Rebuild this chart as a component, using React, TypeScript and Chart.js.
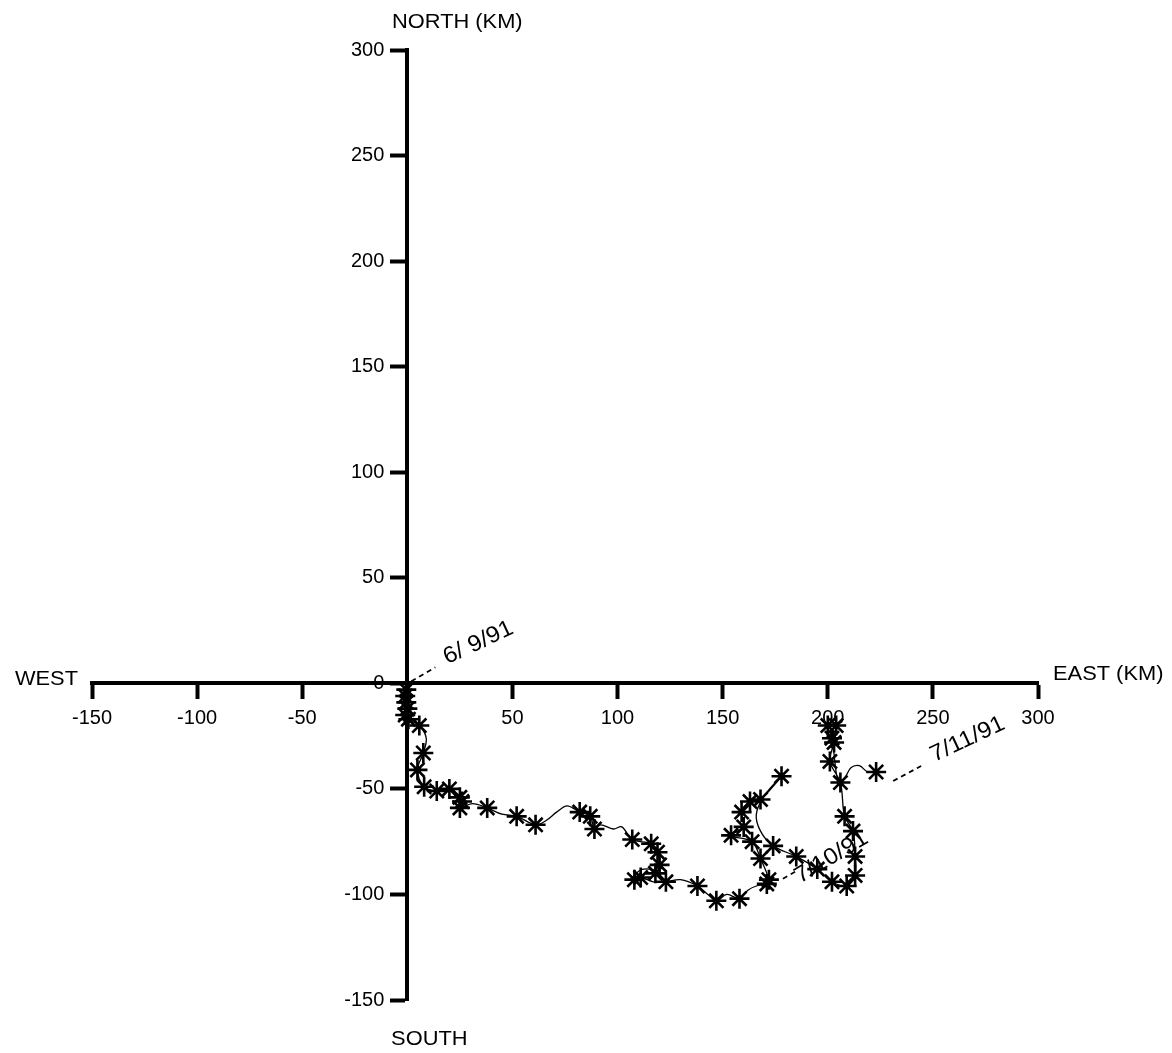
import React, { useEffect, useRef } from "react";
import { Chart, registerables } from "chart.js";

Chart.register(...registerables);

// Drifter track (km east / km north of start)
const trackEast = [
  0, -0.5, -1, -0.5, 0, -1, 0.5, 5.7, 9, 7.6, 4.8, 8, 14, 20, 25, 26, 25, 31, 38, 45, 52, 61,
  66, 71, 76, 82, 87, 89, 92, 98, 102, 107, 116, 119, 120, 118, 115, 110, 108, 111, 117, 123,
  130, 138, 143, 147, 152, 158, 162, 166, 171, 172, 168, 164, 154, 160, 159, 163, 168, 178,
  170, 166, 168, 174, 185, 195, 202, 209, 213, 213, 212, 208, 206, 201, 203, 204, 200, 202,
  205, 208, 211, 215, 219, 223,
];
const trackNorth = [
  0, -3, -6, -9, -12, -15, -17, -20, -26, -33, -41, -49, -51, -50, -54, -56, -59, -57, -59,
  -62, -63, -67, -65, -61, -58, -61, -63, -69, -67, -69, -68, -74, -76, -80, -86, -90, -88,
  -89, -93, -92, -94, -94, -93, -96, -100, -103, -100, -102, -98, -96, -95, -93, -83, -75,
  -72, -68, -61, -56, -55, -44, -53, -62, -70, -77, -82, -88, -94, -96, -91, -82, -70, -63,
  -47, -37, -28, -20, -20, -26, -47, -45, -40, -39, -42, -42,
];

// Position fixes (asterisks)
const fixEast = [
  -0.5, -1, -0.5, 0, -1, 0.5, 5.7, 7.6, 4.8, 8, 14, 20, 25, 26, 25, 38, 52, 61, 82, 87, 89,
  107, 116, 119, 120, 118, 108, 111, 123, 138, 147, 158, 171, 172, 168, 164, 154, 160, 159,
  163, 168, 178, 174, 185, 195, 202, 209, 213, 213, 212, 208, 206, 201, 203, 204, 200, 202, 223,
];
const fixNorth = [
  -3, -6, -9, -12, -15, -17, -20, -33, -41, -49, -51, -50, -54, -56, -59, -59, -63, -67, -61,
  -63, -69, -74, -76, -80, -86, -90, -93, -92, -94, -96, -103, -102, -95, -93, -83, -75, -72,
  -68, -61, -56, -55, -44, -77, -82, -88, -94, -96, -91, -82, -70, -63, -47, -37, -28, -20,
  -20, -26, -42,
];

// Axis ticks
const tickMin = -150;
const tickMax = 300;
const tickStep = 50;

// Date labels and the fixes they point at
const dateLabels = ["6/ 9/91", "7/10/91", "7/11/91"];
const dateEast = [0, 172, 223];
const dateNorth = [0, -93, -42];

// Axis direction titles
const titleNorth = "NORTH (KM)";
const titleSouth = "SOUTH";
const titleWest = "WEST";
const titleEast = "EAST (KM)";

const FONT = '"Liberation Sans", Arial, Helvetica, sans-serif';

// style offsets for each date label: leader start, leader end, text start, angle
const dateStyle = [
  { l1: [4, -2], l2: [28, -16], t: [40, -19], a: -25 },
  { l1: [14, -1], l2: [28, -9], t: [31, 4], a: -31 },
  { l1: [17, 9], l2: [45, -6], t: [58, -10], a: -25 },
];

const textPlugin = {
  id: "textPlugin",
  beforeDatasetsDraw(chart: any) {
    const { ctx, scales } = chart;
    const xs = scales.x;
    const ys = scales.y;
    ctx.save();
    ctx.fillStyle = "#000";
    ctx.strokeStyle = "#000";
    dateLabels.forEach((txt, i) => {
      const ax = xs.getPixelForValue(dateEast[i]);
      const ay = ys.getPixelForValue(dateNorth[i]);
      const s = dateStyle[i];
      ctx.save();
      ctx.setLineDash([5, 4]);
      ctx.lineWidth = 1.8;
      ctx.beginPath();
      ctx.moveTo(ax + s.l1[0], ay + s.l1[1]);
      ctx.lineTo(ax + s.l2[0], ay + s.l2[1]);
      ctx.stroke();
      ctx.restore();
      ctx.save();
      ctx.translate(ax + s.t[0], ay + s.t[1]);
      ctx.rotate((s.a * Math.PI) / 180);
      ctx.scale(1.06, 1);
      ctx.font = `23px ${FONT}`;
      ctx.textAlign = "left";
      ctx.textBaseline = "alphabetic";
      ctx.fillText(txt, 0, 0);
      ctx.restore();
    });
    ctx.restore();
  },
  afterDraw(chart: any) {
    const { ctx, scales, chartArea } = chart;
    const ys = scales.y;
    const x0 = scales.x.getPixelForValue(0);
    const y0 = ys.getPixelForValue(0);
    // y tick labels, from the scale's own ticks, placed left of the tick marks
    ctx.save();
    ctx.font = `20px ${FONT}`;
    ctx.fillStyle = "#000";
    ctx.textAlign = "right";
    ctx.textBaseline = "middle";
    ys.ticks.forEach((t: any) => {
      ctx.fillText(String(t.value), x0 - 23, ys.getPixelForValue(t.value));
    });
    ctx.restore();
    const put = (t: string, x: number, y: number, align: string) => {
      ctx.save();
      ctx.translate(x, y);
      ctx.scale(1.12, 1);
      ctx.font = `19.5px ${FONT}`;
      ctx.fillStyle = "#000";
      ctx.textAlign = align;
      ctx.textBaseline = "middle";
      ctx.fillText(t, 0, 0);
      ctx.restore();
    };
    put(titleNorth, x0 + 50, chartArea.top - 27, "center");
    put(titleSouth, x0 + 22, chartArea.bottom + 40, "center");
    put(titleWest, chartArea.left - 14, y0 - 4, "right");
    put(titleEast, chartArea.right + 15, y0 - 9, "left");
  },
};

export default function App() {
  const ref = useRef<HTMLCanvasElement | null>(null);
  useEffect(() => {
    if (!ref.current) return;
    const tickFont = { family: FONT, size: 20 };
    const chart = new Chart(ref.current, {
      type: "scatter",
      data: {
        datasets: [
          {
            label: "track",
            data: trackEast.map((x, i) => ({ x, y: trackNorth[i] })),
            showLine: true,
            borderColor: "#000",
            borderWidth: 1.3,
            pointRadius: 0,
            tension: 0.35,
            fill: false,
          },
          {
            label: "fixes",
            data: fixEast.map((x, i) => ({ x, y: fixNorth[i] })),
            showLine: false,
            pointStyle: "star",
            pointRadius: 10,
            pointHoverRadius: 10,
            pointBorderWidth: 2.6,
            borderColor: "#000",
            backgroundColor: "#000",
          },
        ],
      },
      options: {
        animation: false,
        responsive: false,
        maintainAspectRatio: false,
        events: [],
        layout: { padding: { left: 92, right: 134, top: 50, bottom: 53 } },
        plugins: { legend: { display: false }, tooltip: { enabled: false } },
        scales: {
          x: {
            type: "linear",
            min: tickMin,
            max: tickMax,
            position: { y: 0 },
            afterFit: (s: any) => {
              s.height = 0;
            },
            border: { display: true, color: "#000", width: 4 },
            grid: {
              display: true,
              drawOnChartArea: false,
              drawTicks: true,
              tickLength: 14,
              tickWidth: 4,
              tickColor: "#000",
            },
            ticks: {
              stepSize: tickStep,
              color: "#000",
              font: tickFont,
              padding: 9,
              maxRotation: 0,
              autoSkip: false,
            },
          },
          y: {
            type: "linear",
            min: tickMin,
            max: tickMax,
            position: { x: 0 },
            afterFit: (s: any) => {
              s.width = 0;
            },
            border: { display: true, color: "#000", width: 4 },
            grid: {
              display: true,
              drawOnChartArea: false,
              drawTicks: true,
              tickLength: 15,
              tickWidth: 4,
              tickColor: "#000",
            },
            ticks: {
              stepSize: tickStep,
              display: false,
              autoSkip: false,
            },
          },
        },
      } as any,
      plugins: [textPlugin as any],
    });
    return () => chart.destroy();
  }, []);
  return (
    <div
      style={{
        position: "absolute",
        left: 0,
        top: 0,
        width: 1172,
        height: 1053,
        background: "#fff",
      }}
    >
      <canvas ref={ref} width={1172} height={1053} style={{ display: "block" }} />
    </div>
  );
}
